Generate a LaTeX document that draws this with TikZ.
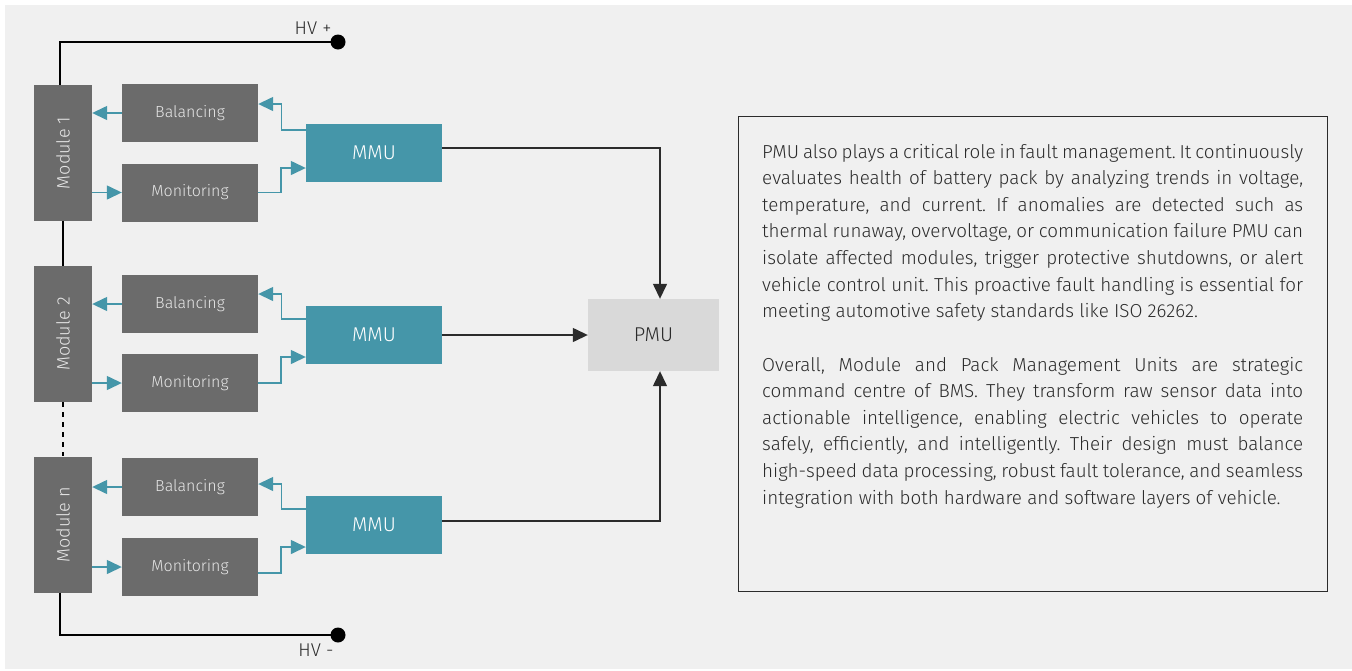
\documentclass[tikz,border=0pt]{standalone}
\usepackage{fontspec}
\usepackage{graphicx}
\setmainfont{Fira Sans Light}
\usetikzlibrary{arrows.meta,calc}
\definecolor{bgc}{HTML}{F0F0F0}
\definecolor{gboxc}{HTML}{6B6B6B}
\definecolor{tealc}{HTML}{4596A9}
\definecolor{pmuc}{HTML}{D9D9D9}
\definecolor{inkc}{HTML}{2B2B2B}
\definecolor{boxtxtc}{HTML}{E6E6E6}
\newcommand{\paraset}{\frenchspacing\hyphenpenalty=10000\relax\exhyphenpenalty=10000\relax}
\begin{document}
\begin{tikzpicture}[x=1pt,y=-1pt,
  blk/.style={fill=gboxc,text=boxtxtc,inner sep=0pt,font=\fontsize{16}{19}\selectfont},
  modbox/.style={blk,minimum width=58pt,minimum height=136pt,font=\fontsize{18}{21}\selectfont},
  subbox/.style={blk,minimum width=136pt,minimum height=58pt},
  mmubox/.style={fill=tealc,text=white,inner sep=0pt,minimum width=136pt,minimum height=58pt,font=\fontsize{20}{23}\selectfont},
  pmubox/.style={fill=pmuc,text=inkc,inner sep=0pt,minimum width=131pt,minimum height=72pt,font=\fontsize{20}{23}\selectfont},
  tarrow/.style={draw=tealc,line width=1.4pt,-{Triangle[length=15pt,width=14pt]}},
  karrow/.style={draw=inkc,line width=1.4pt,-{Triangle[length=15pt,width=14pt]}},
  wire/.style={draw=black,line width=1.6pt},
  term/.style={circle,fill=black,minimum size=15pt,inner sep=0pt},
  lbl/.style={text=inkc,font=\fontsize{18.5}{21}\selectfont,inner sep=0pt},
  para/.style={text=inkc,text width=541pt,align=justify,inner sep=0pt,anchor=base west,
    font=\fontsize{18.8}{26.6}\selectfont}
]
\useasboundingbox (0,0) rectangle (1352,670);
\fill[white] (0,0) rectangle (1352,670);
\fill[bgc] (5,5) rectangle (1352,669);

% modules and boxes
\node[modbox] (m1) at (63,153) {\rotatebox{90}{Module 1}};
\node[modbox] (m2) at (63,334) {\rotatebox{90}{Module 2}};
\node[modbox] (mn) at (63,524.5) {\rotatebox{90}{Module n}};
\node[subbox] (b1) at (190,113) {Balancing};
\node[subbox] (mo1) at (190,192.5) {Monitoring};
\node[subbox] (b2) at (190,304) {Balancing};
\node[subbox] (mo2) at (190,383) {Monitoring};
\node[subbox] (bn) at (190,487) {Balancing};
\node[subbox] (mon) at (190,567) {Monitoring};
\node[mmubox] (u1) at (374,153) {MMU};
\node[mmubox] (u2) at (374,335) {MMU};
\node[mmubox] (un) at (374,525) {MMU};
\node[pmubox] (pmu) at (653.5,335) {PMU};

% HV wiring
\draw[wire] ([xshift=-3pt]m1.north) |- (338,42) coordinate (hvpc);
\node[term] (hvp) at (hvpc) {};
\node[lbl] (hvpl) at (313,28) {HV +};
\draw[wire] (m1.south) -- (m2.north);
\draw[wire,dash pattern=on 5pt off 5pt] (m2.south) -- (mn.north);
\draw[wire] ([xshift=-3pt]mn.south) |- (338,635) coordinate (hvmc);
\node[term] (hvm) at (hvmc) {};
\node[lbl] (hvml) at (316,650) {HV -};

% module 1 teal arrows
\draw[tarrow] (b1.west) -- (b1.west -| m1.east);
\draw[tarrow] (m1.east |- mo1.west) -- (mo1.west);
\draw[tarrow] ($(u1.west)+(0,-23)$) -| ($(b1.east)+(23,-9)$) -- ($(b1.east)+(0,-9)$);
\draw[tarrow] (mo1.east) -| ($(u1.west)+(-25,15)$) -- ($(u1.west)+(0,15)$);
% module 2
\draw[tarrow] (b2.west) -- (b2.west -| m2.east);
\draw[tarrow] (m2.east |- mo2.west) -- (mo2.west);
\draw[tarrow] ($(u2.west)+(0,-16)$) -| ($(b2.east)+(23,-10)$) -- ($(b2.east)+(0,-10)$);
\draw[tarrow] (mo2.east) -| ($(u2.west)+(-25,22)$) -- ($(u2.west)+(0,22)$);
% module n
\draw[tarrow] (bn.west) -- (bn.west -| mn.east);
\draw[tarrow] (mn.east |- mon.west) -- (mon.west);
\draw[tarrow] ($(un.west)+(0,-16)$) -| ($(bn.east)+(23,-3)$) -- ($(bn.east)+(0,-3)$);
\draw[tarrow] ($(mon.east)+(0,6)$) -| ($(un.west)+(-25,22)$) -- ($(un.west)+(0,22)$);

% MMU to PMU
\draw[karrow] ($(u1.east)+(0,-5)$) -| ($(pmu.north)+(6.5,0)$);
\draw[karrow] (u2.east) -- (pmu.west);
\draw[karrow] ($(un.east)+(0,-4)$) -| ($(pmu.south)+(6.5,0)$);

% text box
\node[draw=inkc,line width=1.3pt,fill=none,inner sep=0pt,minimum width=589pt,minimum height=475pt,anchor=north west] (tb) at (738,116) {};
\node[para] (p1) at (762,158) {\paraset PMU also plays a critical role in fault management. It continuously\linebreak
evaluates health of battery pack by analyzing trends in voltage,\linebreak
temperature, and current. If anomalies are detected such as\linebreak
thermal runaway, overvoltage, or communication failure PMU can\linebreak
isolate affected modules, trigger protective shutdowns, or alert\linebreak
vehicle control unit. This proactive fault handling is essential for\linebreak
meeting automotive safety standards like ISO 26262.};
\node[para] (p2) at (762,371) {\paraset Overall, Module and Pack Management Units are strategic\linebreak
command centre of BMS. They transform raw sensor data into\linebreak
actionable intelligence, enabling electric vehicles to operate\linebreak
safely, efficiently, and intelligently. Their design must balance\linebreak
high-speed data processing, robust fault tolerance, and seamless\linebreak
integration with both hardware and software layers of vehicle.};
\end{tikzpicture}
\end{document}
